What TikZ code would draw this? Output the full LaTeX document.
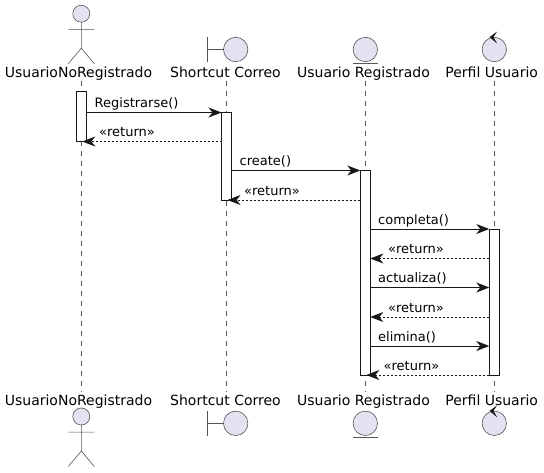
\documentclass[tikz,border=0pt]{standalone}
\usepackage{fontspec}
\setmainfont{DejaVu Sans}
\usetikzlibrary{arrows.meta}
\definecolor{pfill}{HTML}{E2E2F0}
\definecolor{ink}{HTML}{181818}
\definecolor{thin}{HTML}{555555}
\tikzset{
  parttext/.style={font=\fontsize{14}{16}\selectfont,text=black,inner sep=0pt,anchor=base},
  msgtext/.style={font=\fontsize{13}{15}\selectfont,text=black,inner sep=0pt,anchor=base west},
  glyph/.style={draw=thin,line width=0.6pt,fill=pfill},
  glyphline/.style={draw=thin,line width=0.6pt},
  lifeline/.style={draw=thin,line width=0.5pt,dash pattern=on 5pt off 5pt},
  actbox/.style={draw=ink,line width=1pt,fill=white,minimum width=10pt,inner sep=0pt,outer sep=0pt},
  call/.style={draw=ink,line width=1pt,-{Stealth[length=13pt,width=10pt,inset=4pt]}},
  reply/.style={draw=ink,line width=0.8pt,dash pattern=on 2pt off 2pt,-{Stealth[length=13pt,width=10pt,inset=4pt]}},
}
\newcommand{\actorglyph}[2]{% x, head y
  \draw[glyph] (#1,#2) circle (8.5);
  \draw[glyphline] (#1,#2+8.5) -- (#1,#2+34.5) (#1-13,#2+15.6) -- (#1+13,#2+15.6)
     (#1-13,#2+50) -- (#1,#2+34.5) -- (#1+13,#2+50);
}
\newcommand{\boundaryglyph}[2]{% lifeline x, centre y
  \draw[glyph] (#1+9.2,#2) circle (12.2);
  \draw[glyphline] (#1-19.5,#2-12.2) -- (#1-19.5,#2+12.2) (#1-19.5,#2) -- (#1-3,#2);
}
\newcommand{\entityglyph}[2]{%
  \draw[glyph] (#1,#2) circle (12.2);
  \draw[glyphline] (#1-12.5,#2+13.8) -- (#1+12.5,#2+13.8);
}
\newcommand{\controlglyph}[2]{%
  \draw[glyph] (#1,#2) circle (12.2);
  \fill[ink] (#1-4.8,#2-12.4) -- (#1+2.8,#2-18) -- (#1-0.8,#2-12.4) -- (#1+2.8,#2-6) -- cycle;
}
\begin{document}
\begin{tikzpicture}[x=1pt,y=-1pt]
\useasboundingbox (0,0) rectangle (544,472);
% lifeline ends
\coordinate (t1) at (81.3,81); \coordinate (b1) at (81.3,392);
\coordinate (t2) at (226.5,81); \coordinate (b2) at (226.5,392);
\coordinate (t3) at (365.3,81); \coordinate (b3) at (365.3,392);
\coordinate (t4) at (494.3,81); \coordinate (b4) at (494.3,392);
\draw[lifeline] (t1) -- (b1);
\draw[lifeline] (t2) -- (b2);
\draw[lifeline] (t3) -- (b3);
\draw[lifeline] (t4) -- (b4);
% participants
\actorglyph{81.3}{13.7}
\boundaryglyph{226.5}{49.5}
\entityglyph{365.3}{49.5}
\controlglyph{494.3}{49.5}
\actorglyph{81.3}{416.5}
\boundaryglyph{226.5}{423.3}
\entityglyph{365.3}{423.3}
\controlglyph{494.3}{423.3}
\node[parttext] (p1) at (78.5,77) {UsuarioNoRegistrado};
\node[parttext] (p2) at (225.5,77) {Shortcut Correo};
\node[parttext] (p3) at (363.5,77) {Usuario Registrado};
\node[parttext] (p4) at (491.7,77) {Perfil Usuario};
\node[parttext] (q1) at (78.5,405) {UsuarioNoRegistrado};
\node[parttext] (q2) at (225.5,405) {Shortcut Correo};
\node[parttext] (q3) at (363.5,405) {Usuario Registrado};
\node[parttext] (q4) at (491.7,405) {Perfil Usuario};
% activations
\node[actbox,minimum height=50pt,anchor=north] (a1) at (81.3,91) {};
\node[actbox,minimum height=88.5pt,anchor=north] (a2) at (226.5,112) {};
\node[actbox,minimum height=205pt,anchor=north] (a3) at (365.3,170) {};
\node[actbox,minimum height=146pt,anchor=north] (a4) at (494.3,229) {};
% message rows
\coordinate (m1) at (0,112.5);
\coordinate (m2) at (0,141.5);
\coordinate (m3) at (0,170.5);
\coordinate (m4) at (0,200);
\coordinate (m5) at (0,229);
\coordinate (m6) at (0,258.5);
\coordinate (m7) at (0,287.5);
\coordinate (m8) at (0,317);
\coordinate (m9) at (0,346);
\coordinate (m10) at (0,375);
\draw[call] (a1.east |- m1) -- (a2.west |- m1);
\draw[reply] (a2.west |- m2) -- ([xshift=1pt]a1.center |- m2);
\draw[call] (a2.east |- m3) -- (a3.west |- m3);
\draw[reply] (a3.west |- m4) -- ([xshift=1pt]a2.center |- m4);
\draw[call] (a3.east |- m5) -- (a4.west |- m5);
\draw[reply] (a4.west |- m6) -- (a3.east |- m6);
\draw[call] (a3.east |- m7) -- (a4.west |- m7);
\draw[reply] (a4.west |- m8) -- (a3.east |- m8);
\draw[call] (a3.east |- m9) -- (a4.west |- m9);
\draw[reply] (a4.west |- m10) -- ([xshift=1pt]a3.center |- m10);
% labels
\node[msgtext] (l1) at (94.5,107) {Registrarse()};
\node[msgtext] (l2) at (99,136) {«return»};
\node[msgtext] (l3) at (239.5,165) {create()};
\node[msgtext] (l4) at (244,195) {«return»};
\node[msgtext] (l5) at (378,224) {completa()};
\node[msgtext] (l6) at (388,253) {«return»};
\node[msgtext] (l7) at (378,282) {actualiza()};
\node[msgtext] (l8) at (388,312) {«return»};
\node[msgtext] (l9) at (378,341) {elimina()};
\node[msgtext] (l10) at (383.5,370) {«return»};
\end{tikzpicture}
\end{document}
